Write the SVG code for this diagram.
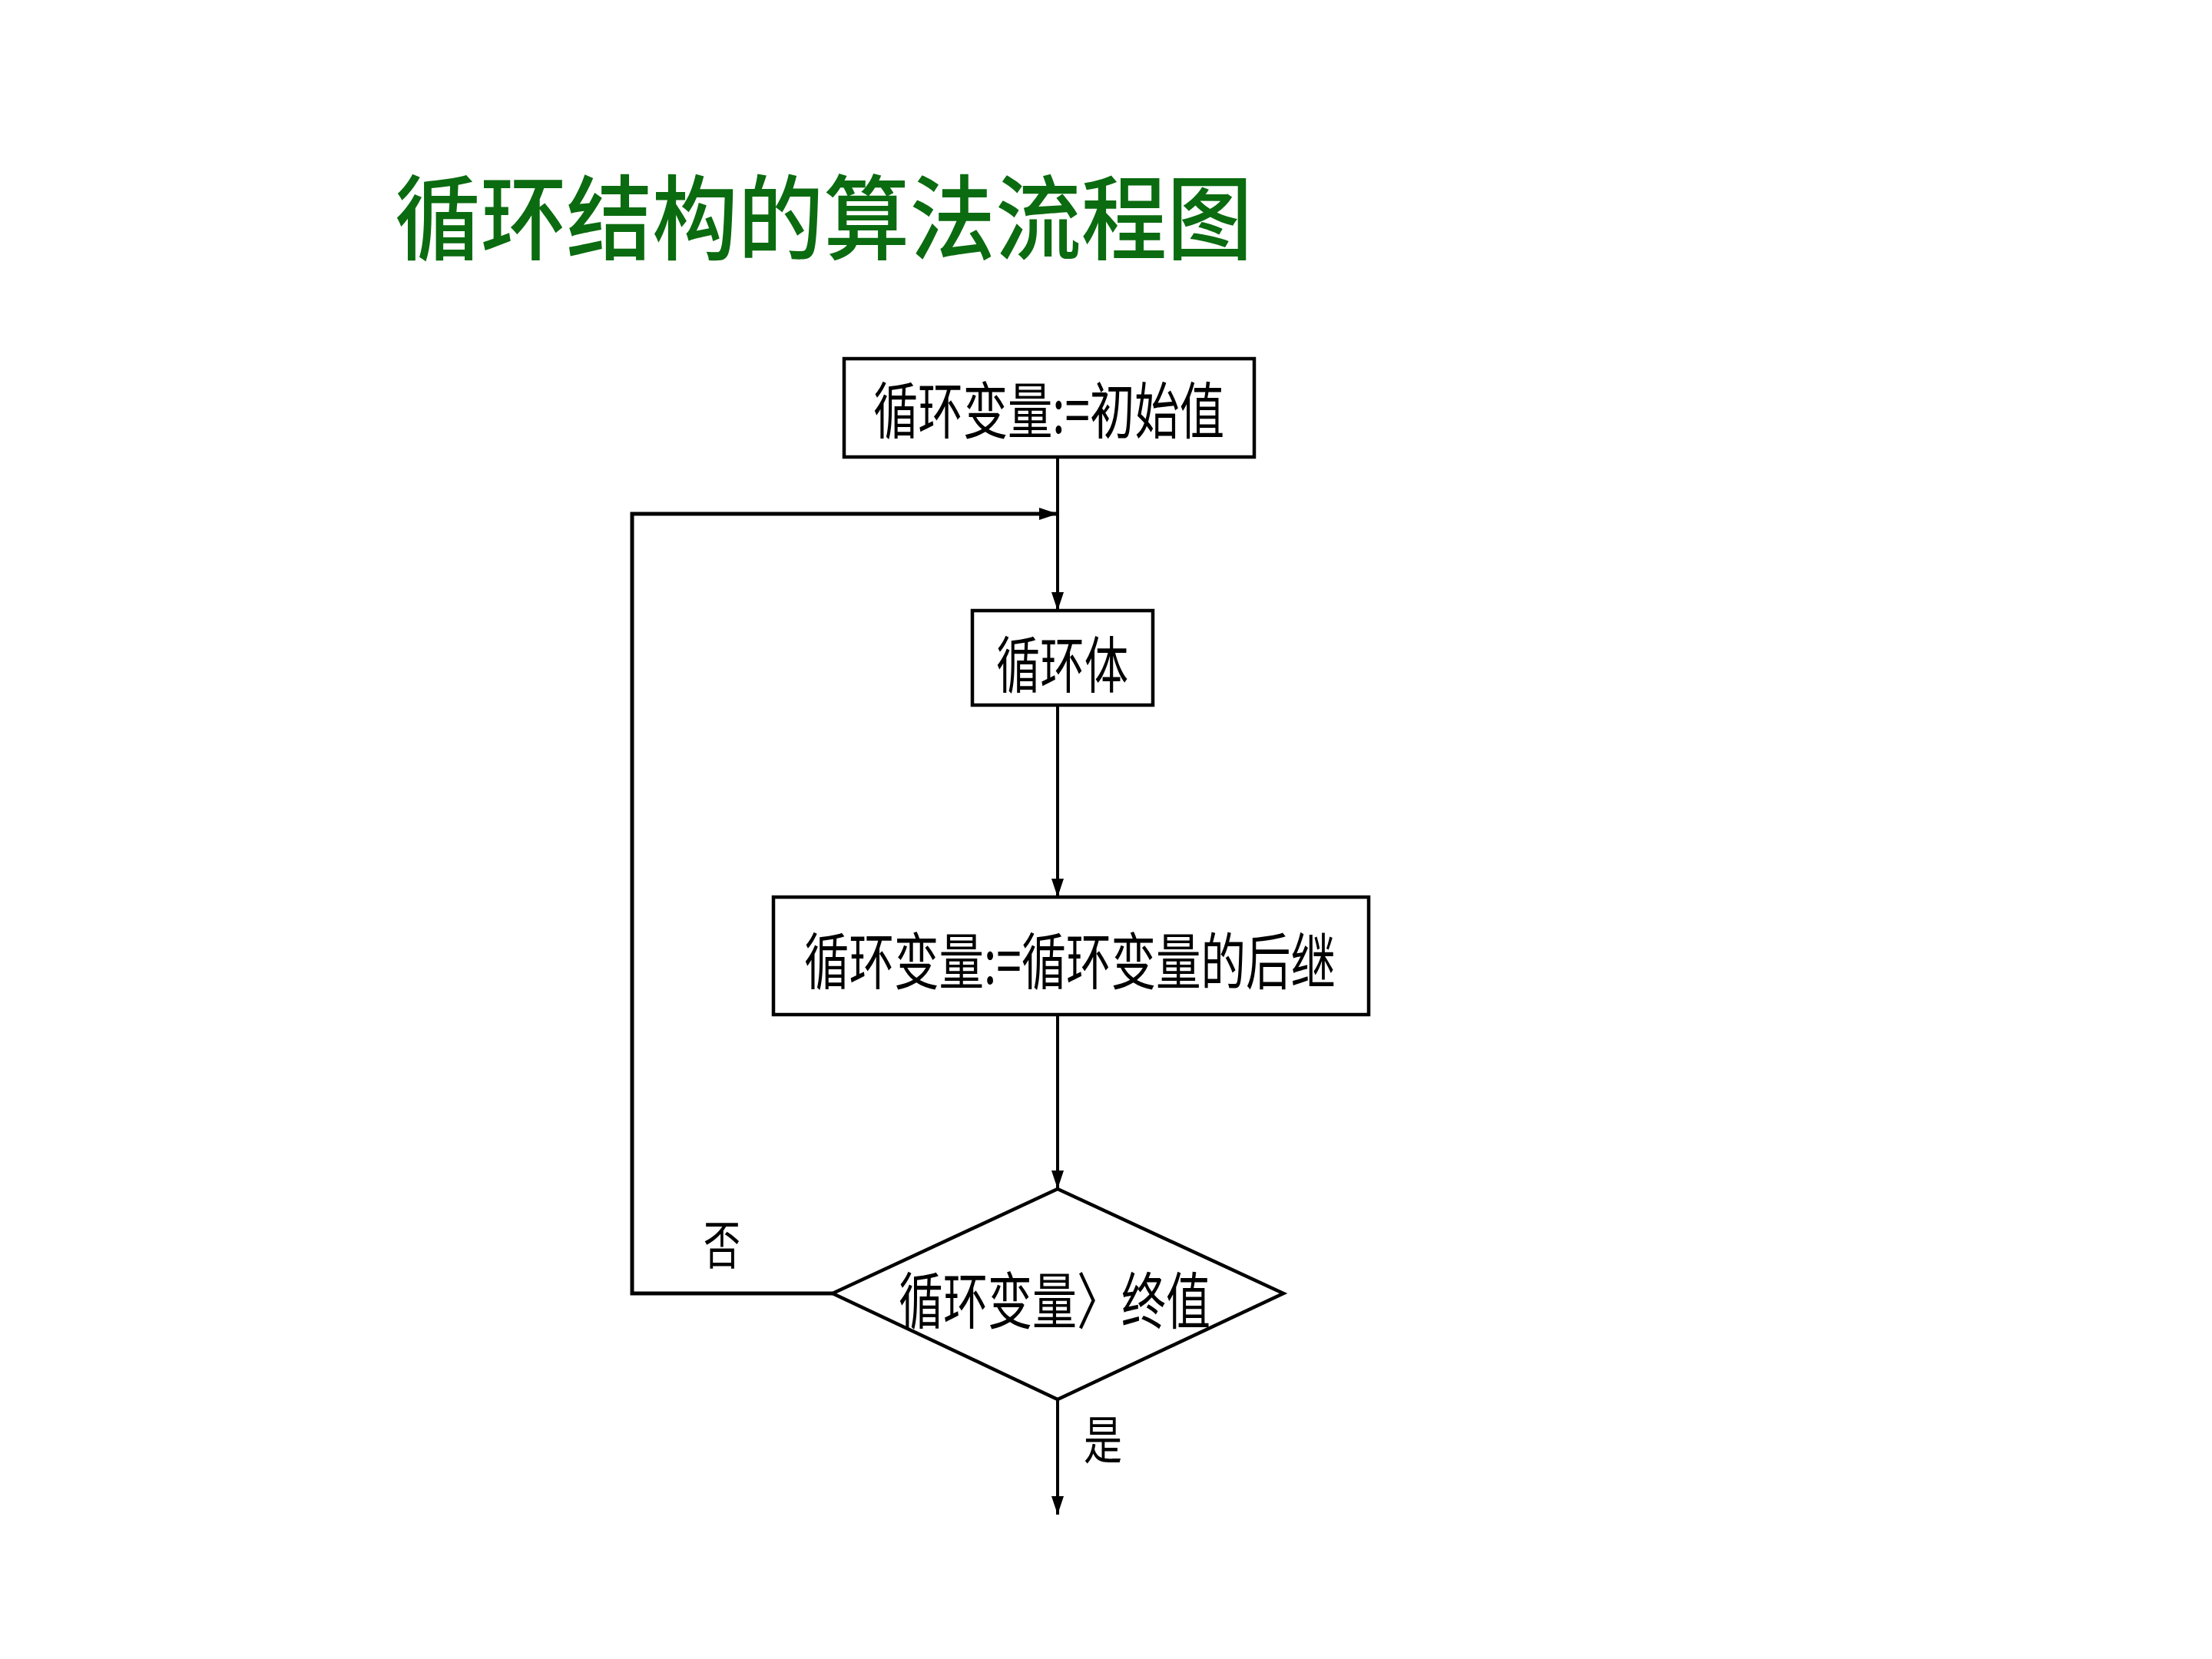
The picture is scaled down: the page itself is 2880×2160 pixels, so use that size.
<svg xmlns="http://www.w3.org/2000/svg" width="2880" height="2160" viewBox="0 0 2880 2160">
<style>
.box{fill:#fff;stroke:#000;stroke-width:4.5}
.lbl{font-family:"Liberation Sans","Noto Sans CJK SC",sans-serif;font-size:80px;fill:#000;dominant-baseline:central}
.cjk{font-family:"Noto Sans CJK SC",sans-serif}
.ln{fill:none;stroke:#000;stroke-width:4}
</style>
<defs>
<marker id="ah" viewBox="0 0 24 16" refX="24" refY="8" markerWidth="24" markerHeight="16" markerUnits="userSpaceOnUse" orient="auto">
<path d="M0,0 L24,8 L0,16 Z" fill="#000"/>
</marker>
</defs>
<rect width="2880" height="2160" fill="#fff"/>
<text x="514" y="277" textLength="1117" lengthAdjust="spacingAndGlyphs" style="font-family:'Noto Sans CJK SC',sans-serif;font-size:120px;font-weight:500;fill:#0b6b10;dominant-baseline:central">循环结构的算法流程图</text>
<g id="connectors">
<path class="ln" d="M1377,595 V795" marker-end="url(#ah)"/>
<path class="ln" d="M1084,1684 H823 V669 H1377" style="stroke-width:5" marker-end="url(#ah)"/>
<path class="ln" d="M1377,918 V1168" marker-end="url(#ah)"/>
<path class="ln" d="M1377,1321 V1548" marker-end="url(#ah)"/>
<path class="ln" d="M1377,1822 V1972" marker-end="url(#ah)"/>
<text class="lbl cjk" x="940" y="1616" text-anchor="middle" style="font-size:68px" textLength="48" lengthAdjust="spacingAndGlyphs">否</text>
<text class="lbl cjk" x="1411" y="1870" style="font-size:68px" textLength="50" lengthAdjust="spacingAndGlyphs">是</text>
</g>
<g id="init">
<rect class="box" x="1099" y="467" width="534" height="128"/>
<text class="lbl cjk" x="1137" y="529" textLength="457" lengthAdjust="spacingAndGlyphs">循环变量:=初始值</text>
</g>
<g id="body">
<rect class="box" x="1266" y="795" width="235" height="123"/>
<text class="lbl cjk" x="1297" y="860" textLength="172" lengthAdjust="spacingAndGlyphs">循环体</text>
</g>
<g id="next">
<rect class="box" x="1007" y="1168" width="775" height="153"/>
<text class="lbl cjk" x="1047" y="1246" textLength="692" lengthAdjust="spacingAndGlyphs">循环变量:=循环变量的后继</text>
</g>
<g id="cond">
<path class="box" d="M1377,1548 L1671,1684 L1377,1822 L1084,1684 Z"/>
<text class="lbl cjk" x="1170" y="1688" textLength="406" lengthAdjust="spacingAndGlyphs">循环变量〉终值</text>
</g>
</svg>
